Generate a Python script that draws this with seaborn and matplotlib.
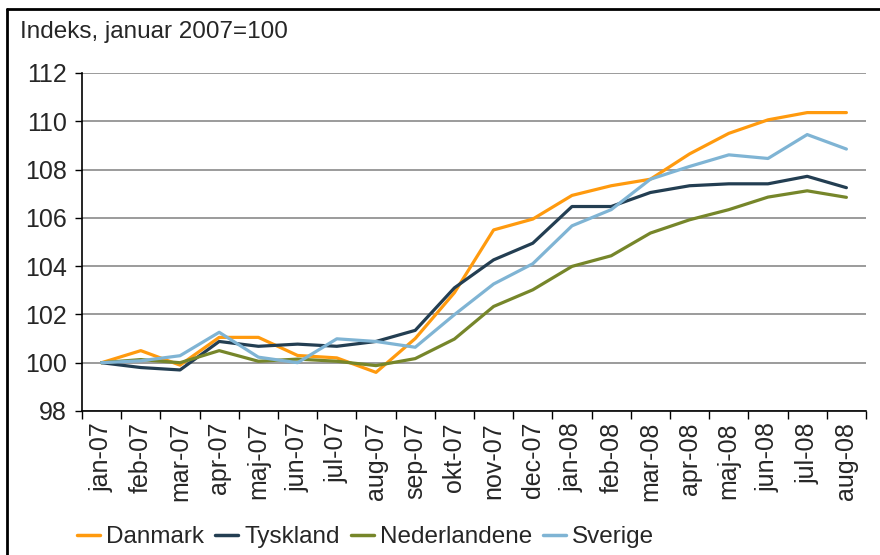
import numpy as np
import pandas as pd
import matplotlib
matplotlib.use("Agg")
import matplotlib.pyplot as plt
from matplotlib.lines import Line2D
from matplotlib.ticker import FixedLocator
import seaborn as sns

# Data
months = ["jan-07", "feb-07", "mar-07", "apr-07", "maj-07", "jun-07", "jul-07",
          "aug-07", "sep-07", "okt-07", "nov-07", "dec-07", "jan-08", "feb-08",
          "mar-08", "apr-08", "maj-08", "jun-08", "jul-08", "aug-08"]
danmark = [100.0, 100.5, 99.9, 101.05, 101.05, 100.3, 100.2, 99.6, 101.0, 102.9,
           105.5, 105.95, 106.93, 107.33, 107.6, 108.65, 109.5, 110.06, 110.36, 110.36]
tyskland = [100.0, 99.8, 99.7, 100.88, 100.68, 100.77, 100.68, 100.88, 101.34, 103.1,
            104.26, 104.95, 106.47, 106.47, 107.05, 107.33, 107.41, 107.41, 107.72, 107.25]
nederlandene = [100.0, 100.13, 100.0, 100.5, 100.06, 100.15, 100.06, 99.88, 100.17, 100.98,
                102.33, 103.02, 103.99, 104.43, 105.37, 105.92, 106.34, 106.86, 107.12, 106.85]
sverige = [100.0, 100.08, 100.29, 101.26, 100.23, 100.0, 100.99, 100.88, 100.64, 101.99,
           103.26, 104.1, 105.67, 106.34, 107.6, 108.13, 108.61, 108.46, 109.45, 108.85]

series = {"Danmark": danmark, "Tyskland": tyskland,
          "Nederlandene": nederlandene, "Sverige": sverige}
colors = {"Danmark": "#FF9A0E", "Tyskland": "#233E52",
          "Nederlandene": "#76862A", "Sverige": "#7FB4D4"}

rows = []
for name, vals in series.items():
    for i, v in enumerate(vals):
        rows.append({"idx": i, "værdi": v, "land": name})
df = pd.DataFrame(rows)

sns.set_theme(style="white")
plt.rcParams["font.family"] = ["Liberation Sans", "DejaVu Sans"]

fig = plt.figure(figsize=(8.8, 5.55), dpi=100)
ax = fig.add_axes([82 / 880, 1 - 411 / 555, 784 / 880, (411 - 73) / 555])

sns.lineplot(data=df, x="idx", y="værdi", hue="land", palette=colors,
             linewidth=2.3, ax=ax, legend=False)

# akser
ax.set_xlim(-0.5, len(months) - 0.5)
ax.set_ylim(98, 112)
ax.set_yticks(np.arange(98, 113, 2))
ax.set_yticklabels([str(v) for v in range(98, 113, 2)], fontsize=18)
ax.yaxis.grid(True, color="#808080", linewidth=1.1)
ax.set_axisbelow(True)

ax.xaxis.set_major_locator(FixedLocator(np.arange(-0.5, len(months), 1)))
ax.xaxis.set_minor_locator(FixedLocator(np.arange(len(months))))
ax.set_xticklabels([], minor=False)
ax.set_xticklabels(months, minor=True, rotation=90, fontsize=18)
ax.tick_params(axis="x", which="major", direction="out", length=6, width=1, color="black", bottom=True)
ax.tick_params(axis="x", which="minor", length=0, pad=8)
ax.tick_params(axis="y", direction="out", length=5, width=1, color="black", left=True, pad=6)
ax.set_xlabel("")
ax.set_ylabel("")

for s in ["top", "right"]:
    ax.spines[s].set_visible(False)
for s in ["left", "bottom"]:
    ax.spines[s].set_color("black")
    ax.spines[s].set_linewidth(1.2)

# enhed
fig.text(20 / 880, 1 - 32 / 555, "Indeks, januar 2007=100", fontsize=17.5, va="center", ha="left")

# legende
handles = [Line2D([0], [0], color=colors[n], linewidth=2.5) for n in series]
fig.legend(handles, list(series.keys()), loc="center left", bbox_to_anchor=(77 / 880, 1 - 537 / 555),
           ncol=4, frameon=False, fontsize=17.5, handlelength=0.95, handletextpad=0.25,
           columnspacing=0.45, borderaxespad=0, borderpad=0)

# ramme
fig.add_artist(Line2D([7 / 880, 1], [1 - 9 / 555, 1 - 9 / 555], color="black", linewidth=2))
fig.add_artist(Line2D([7 / 880, 7 / 880], [0, 1 - 9 / 555], color="black", linewidth=2))

fig.savefig("out.png", dpi=100)
